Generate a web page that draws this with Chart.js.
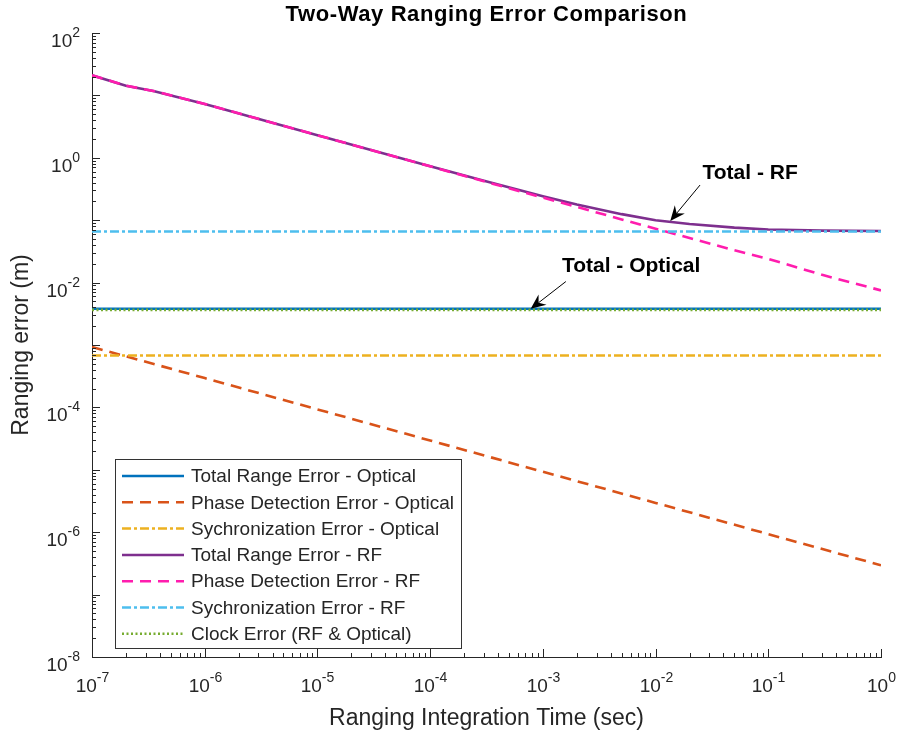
<!DOCTYPE html>
<html>
<head>
<meta charset="utf-8">
<title>Two-Way Ranging Error Comparison</title>
<script src="https://cdn.jsdelivr.net/npm/chart.js@4.4.0/dist/chart.umd.min.js"></script>
<style>
  body { margin: 0; background: #fff; }
  canvas { display: block; }
</style>
</head>
<body>
<canvas id="chart" width="899" height="738"></canvas>
<script>
// values (log-log)
const timeRF = [1e-7, 2e-7, 3.5e-7, 1e-6, 1e-5, 1e-4, 3e-4, 1e-3, 2e-3, 5e-3, 1e-2, 2e-2, 5e-2, 1e-1, 3e-1, 1];
const totalRF = [21, 14.3, 11.8, 7.3, 2.3, 0.735, 0.428, 0.242, 0.178, 0.125, 0.1, 0.087, 0.076, 0.071, 0.068, 0.067];
const phaseRF = [21, 14.3, 11.8, 7.3, 2.3, 0.73, 0.42, 0.23, 0.163, 0.103, 0.073, 0.052, 0.033, 0.024, 0.0133, 0.0075];
const timeDecades = [1e-7, 1e-6, 1e-5, 1e-4, 1e-3, 1e-2, 1e-1, 1];
const phaseOptical = [9.3e-4, 2.95e-4, 9.3e-5, 2.95e-5, 9.3e-6, 2.95e-6, 9.3e-7, 2.95e-7];
const timeFlat = [1e-7, 1];
const totalOptical = [3.8e-3, 3.8e-3];
const syncOptical = [6.8e-4, 6.8e-4];
const syncRF = [0.066, 0.066];
const clockError = [3.65e-3, 3.65e-3];

const FONT = '"Liberation Sans", Arial, Helvetica, sans-serif';
const TEXT = '#262626';
const TITLE = 'Two-Way Ranging Error Comparison';

function pts(xs, ys) {
  return xs.map((x, i) => ({ x: x, y: ys[i] }));
}

const series = [
  { label: 'Total Range Error - Optical', data: pts(timeFlat, totalOptical), color: '#0072BD', dash: [] },
  { label: 'Phase Detection Error - Optical', data: pts(timeDecades, phaseOptical), color: '#D95319', dash: [11, 7] },
  { label: 'Sychronization Error - Optical', data: pts(timeFlat, syncOptical), color: '#EDB120', dash: [9, 3, 3, 3] },
  { label: 'Total Range Error - RF', data: pts(timeRF, totalRF), color: '#7E2F8E', dash: [] },
  { label: 'Phase Detection Error - RF', data: pts(timeRF, phaseRF), color: '#FF1DAE', dash: [11, 7] },
  { label: 'Sychronization Error - RF', data: pts(timeFlat, syncRF), color: '#4DBEEE', dash: [9, 3, 3, 3] },
  { label: 'Clock Error (RF & Optical)', data: pts(timeFlat, clockError), color: '#77AC30', dash: [2, 2.5] }
];

// arrows in data coordinates: [time, error]
const notes = [
  { text: 'Total - RF', label: [0.069, 0.57], tail: [0.0248, 0.366], head: [0.0135, 0.097] },
  { text: 'Total - Optical', label: [6.07e-3, 0.0185], tail: [1.6e-3, 0.0104], head: [7.8e-4, 3.8e-3] }
];

// 1..9 x 10^n ticks for every decade
function logTicks(scale) {
  const lo = Math.round(Math.log10(scale.min));
  const hi = Math.round(Math.log10(scale.max));
  const ticks = [];
  for (let e = lo; e <= hi; e++) {
    for (let m = 1; m <= 9; m++) {
      if (e === hi && m > 1) break;
      ticks.push({ value: m * Math.pow(10, e), major: m === 1 });
    }
  }
  scale.ticks = ticks;
}

function drawPow(ctx, x, y, exp, align) {
  const base = '10';
  const sup = String(exp);
  ctx.font = '19px ' + FONT;
  const bw = ctx.measureText(base).width;
  ctx.font = '14px ' + FONT;
  const sw = ctx.measureText(sup).width;
  const x0 = align === 'right' ? x - bw - sw : x - (bw + sw) / 2;
  ctx.textAlign = 'left';
  ctx.textBaseline = 'alphabetic';
  ctx.font = '19px ' + FONT;
  ctx.fillText(base, x0, y);
  ctx.font = '14px ' + FONT;
  ctx.fillText(sup, x0 + bw, y - 10);
}

// inward ticks, powers-of-ten labels and the centred title
const axisDecor = {
  id: 'axisDecor',
  afterDraw(chart) {
    const ctx = chart.ctx;
    const xs = chart.scales.x, ys = chart.scales.y;
    const area = chart.chartArea;
    ctx.save();
    ctx.fillStyle = TEXT;
    ctx.strokeStyle = TEXT;
    ctx.lineWidth = 1;
    xs.ticks.forEach(t => {
      const px = Math.round(xs.getPixelForValue(t.value)) + 0.5;
      ctx.beginPath();
      ctx.moveTo(px, area.bottom);
      ctx.lineTo(px, area.bottom - (t.major ? 8 : 4));
      ctx.stroke();
      if (t.major) drawPow(ctx, px, area.bottom + 35, Math.round(Math.log10(t.value)), 'center');
    });
    ys.ticks.forEach(t => {
      const py = Math.round(ys.getPixelForValue(t.value)) + 0.5;
      ctx.beginPath();
      ctx.moveTo(area.left, py);
      ctx.lineTo(area.left + (t.major ? 8 : 4), py);
      ctx.stroke();
      const e = Math.round(Math.log10(t.value));
      if (t.major && e % 2 === 0) drawPow(ctx, area.left - 12, py + 13, e, 'right');
    });
    ctx.fillStyle = '#000';
    ctx.font = 'bold 22px ' + FONT;
    ctx.letterSpacing = '0.6px';
    ctx.textAlign = 'center';
    ctx.textBaseline = 'middle';
    ctx.fillText(TITLE, (area.left + area.right) / 2, 15);
    ctx.restore();
  }
};

function arrow(ctx, x1, y1, x2, y2) {
  const ang = Math.atan2(y2 - y1, x2 - x1);
  const len = 15, back = 10, half = 6.5;
  ctx.beginPath();
  ctx.moveTo(x1, y1);
  ctx.lineTo(x2 - Math.cos(ang) * back, y2 - Math.sin(ang) * back);
  ctx.stroke();
  const bx = x2 - Math.cos(ang) * len, by = y2 - Math.sin(ang) * len;
  const nx = -Math.sin(ang), ny = Math.cos(ang);
  ctx.beginPath();
  ctx.moveTo(x2, y2);
  ctx.lineTo(bx + nx * half, by + ny * half);
  ctx.lineTo(x2 - Math.cos(ang) * back, y2 - Math.sin(ang) * back);
  ctx.lineTo(bx - nx * half, by - ny * half);
  ctx.closePath();
  ctx.fill();
}

const notesPlugin = {
  id: 'notes',
  afterDatasetsDraw(chart) {
    const ctx = chart.ctx;
    const xs = chart.scales.x, ys = chart.scales.y;
    ctx.save();
    ctx.fillStyle = '#000';
    ctx.strokeStyle = '#000';
    ctx.lineWidth = 1;
    notes.forEach(n => {
      const px = v => xs.getPixelForValue(v[0]);
      const py = v => ys.getPixelForValue(v[1]);
      arrow(ctx, px(n.tail), py(n.tail), px(n.head), py(n.head));
      ctx.font = 'bold 21px ' + FONT;
      ctx.textAlign = 'center';
      ctx.textBaseline = 'middle';
      ctx.fillText(n.text, px(n.label), py(n.label));
    });
    ctx.restore();
  }
};

// legend box sitting inside the plot, lower left
const boxLegend = {
  id: 'boxLegend',
  afterDraw(chart) {
    const ctx = chart.ctx;
    const area = chart.chartArea;
    const w = 346, h = 189, rowH = 26.3;
    const left = area.left + 23;
    const top = area.bottom - 9 - h;
    ctx.save();
    ctx.fillStyle = '#fff';
    ctx.fillRect(left, top, w, h);
    ctx.strokeStyle = '#333';
    ctx.lineWidth = 1;
    ctx.strokeRect(Math.round(left) + 0.5, Math.round(top) + 0.5, w, h);
    ctx.font = '19px ' + FONT;
    ctx.textAlign = 'left';
    ctx.textBaseline = 'middle';
    chart.data.datasets.forEach((ds, i) => {
      const cy = top + 17 + i * rowH;
      ctx.strokeStyle = ds.borderColor;
      ctx.lineWidth = 2.5;
      ctx.setLineDash(ds.borderDash);
      ctx.beginPath();
      ctx.moveTo(left + 7, cy);
      ctx.lineTo(left + 69, cy);
      ctx.stroke();
      ctx.setLineDash([]);
      ctx.fillStyle = TEXT;
      ctx.fillText(ds.label, left + 76, cy + 1);
    });
    ctx.restore();
  }
};

new Chart(document.getElementById('chart'), {
  type: 'line',
  data: {
    datasets: series.map((s, i) => ({
      label: s.label,
      data: s.data,
      borderColor: s.color,
      backgroundColor: s.color,
      borderDash: s.dash,
      borderWidth: 2.6,
      pointRadius: 0,
      fill: false,
      tension: 0,
      order: series.length - i
    }))
  },
  options: {
    responsive: false,
    animation: false,
    devicePixelRatio: 1,
    layout: { padding: { left: 0, right: 18, top: 33, bottom: 0 } },
    plugins: {
      legend: { display: false },
      tooltip: { enabled: false },
      title: { display: false }
    },
    scales: {
      x: {
        type: 'logarithmic',
        position: 'bottom',
        min: 1e-7,
        max: 1,
        afterBuildTicks: logTicks,
        afterFit: s => { s.height = 81; },
        border: { color: TEXT, width: 1 },
        grid: { display: false },
        ticks: { display: false, autoSkip: false },
        title: {
          display: true,
          text: 'Ranging Integration Time (sec)',
          color: TEXT,
          font: { family: FONT, size: 23 },
          padding: { top: 0, bottom: 6 }
        }
      },
      y: {
        type: 'logarithmic',
        position: 'left',
        min: 1e-8,
        max: 100,
        afterBuildTicks: logTicks,
        afterFit: s => { s.width = 92; },
        border: { color: TEXT, width: 1 },
        grid: { display: false },
        ticks: { display: false, autoSkip: false },
        title: {
          display: true,
          text: 'Ranging error (m)',
          color: TEXT,
          font: { family: FONT, size: 23 },
          padding: { top: 8, bottom: 0 }
        }
      }
    }
  },
  plugins: [axisDecor, notesPlugin, boxLegend]
});
</script>
</body>
</html>
